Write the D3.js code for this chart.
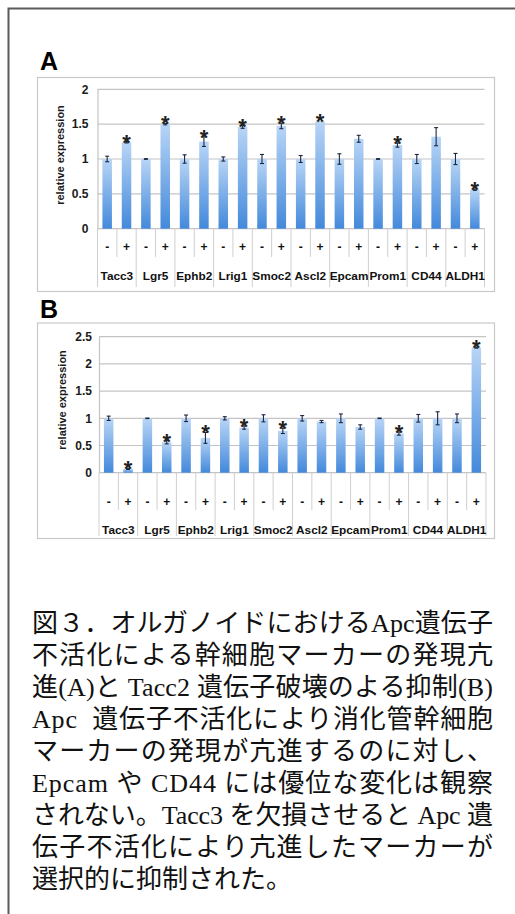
<!DOCTYPE html>
<html>
<head>
<meta charset="utf-8">
<script src="https://cdn.jsdelivr.net/npm/d3@7"></script>
<style>
  body { margin: 0; background: #fff; }
  #wrap { position: relative; width: 515px; height: 914px; overflow: hidden; }
  #wrap svg { position: absolute; left: 0; top: 0; }
  #caption {
    position: absolute; left: 32px; top: 608px; width: 461px;
    font-family: "Liberation Serif", "Noto Sans CJK JP", serif;
    font-size: 26px; line-height: 32px; color: #111;
  }
  #caption div { white-space: pre; }
  #caption span { display: inline-block; }
</style>
</head>
<body>
<div id="wrap">
  <svg id="fig" width="515" height="914"></svg>
  <div id="caption"></div>
</div>
<script>
// Marker genes and the two conditions per gene
const genes = ["Tacc3", "Lgr5", "Ephb2", "Lrig1", "Smoc2", "Ascl2", "Epcam", "Prom1", "CD44", "ALDH1"];
const conditions = ["-", "+"];

// Panel A: Apc inactivation (- / +)
const aMinus    = [1.0, 1.0, 1.0, 1.0, 1.0, 1.0, 1.0, 1.0, 1.0, 1.0];
const aMinusErr = [0.04, 0.005, 0.06, 0.03, 0.065, 0.05, 0.075, 0.005, 0.065, 0.08];
const aPlus     = [1.24, 1.50, 1.25, 1.46, 1.475, 1.54, 1.29, 1.20, 1.32, 0.56];
const aPlusErr  = [0.01, 0.01, 0.07, 0.02, 0.04, 0.0, 0.05, 0.03, 0.13, 0.01];
const aStar     = [true, true, true, true, true, true, false, true, false, true];
const aTicks    = [0, 0.5, 1, 1.5, 2];

// Panel B: Tacc3 disruption (- / +)
const bMinus    = [1.0, 1.0, 1.0, 1.0, 1.0, 1.0, 1.0, 1.0, 1.0, 1.0];
const bMinusErr = [0.04, 0.005, 0.06, 0.03, 0.065, 0.05, 0.08, 0.005, 0.07, 0.08];
const bPlus     = [0.07, 0.56, 0.64, 0.83, 0.77, 0.94, 0.84, 0.72, 1.0, 2.30];
const bPlusErr  = [0.01, 0.03, 0.10, 0.03, 0.05, 0.02, 0.04, 0.03, 0.12, 0.01];
const bStar     = [true, true, true, true, true, false, false, true, false, true];
const bTicks    = [0, 0.5, 1, 1.5, 2, 2.5];

const captionLines = [
  "図３．オルガノイドにおけるApc遺伝子",
  "不活化による幹細胞マーカーの発現亢",
  "進(A)と Tacc2 遺伝子破壊のよる抑制(B)",
  "Apc  遺伝子不活化により消化管幹細胞",
  "マーカーの発現が亢進するのに対し、",
  "Epcam や CD44 には優位な変化は観察",
  "されない。Tacc3 を欠損させると Apc 遺",
  "伝子不活化により亢進したマーカーが",
  "選択的に抑制された。"
];

const svg = d3.select("#fig");
const font = "'Liberation Sans', Arial, Helvetica, sans-serif";

// outer frame
svg.append("path")
  .attr("d", "M8.5,920 V8.5 H520")
  .attr("fill", "none").attr("stroke", "#5a5a5a").attr("stroke-width", 2);

// bar fill
const defs = svg.append("defs");
const grad = defs.append("linearGradient").attr("id", "barFill")
  .attr("x1", 0).attr("y1", 0).attr("x2", 0).attr("y2", 1);
grad.append("stop").attr("offset", "0%").attr("stop-color", "#b8d5f6");
grad.append("stop").attr("offset", "100%").attr("stop-color", "#4389db");

function drawPanel(p) {
  const g = svg.append("g");

  g.append("text").text(p.letter)
    .attr("x", p.letterX).attr("y", p.letterY)
    .attr("font-family", font).attr("font-weight", "bold")
    .attr("font-size", 25).attr("fill", "#000");

  g.append("rect")
    .attr("x", p.box[0] + 0.5).attr("y", p.box[1] + 0.5)
    .attr("width", p.box[2]).attr("height", p.box[3])
    .attr("fill", "#fff").attr("stroke", "#c9c9c9").attr("stroke-width", 1.2);

  const y = d3.scaleLinear().domain([0, p.ticks[p.ticks.length - 1]]).range([p.y0, p.yTop]);
  const x = d3.scaleBand().domain(genes).range([p.x0, p.x1]).paddingInner(0).paddingOuter(0);
  const xs = d3.scaleBand().domain(conditions).range([0, x.bandwidth()]);
  const bw = 9.5;

  // gridlines
  g.append("g").selectAll("line").data(p.ticks).join("line")
    .attr("x1", p.x0).attr("x2", p.x1)
    .attr("y1", d => y(d)).attr("y2", d => y(d))
    .attr("stroke", "#c4c4c4").attr("stroke-width", 1.2);

  // y axis
  const yAxis = d3.axisLeft(y).tickValues(p.ticks).tickSize(0).tickPadding(p.tickPad)
    .tickFormat(d3.format("~g"));
  const ya = g.append("g").attr("transform", `translate(${p.x0},0)`).call(yAxis);
  ya.select(".domain").attr("stroke", "#c4c4c4").attr("stroke-width", 1.2);
  ya.selectAll("text").attr("font-family", font).attr("font-weight", "bold")
    .attr("font-size", 12).attr("fill", "#1a1a1a");

  g.append("text").text("relative expression")
    .attr("transform", `translate(${p.labelX},${p.labelY}) rotate(-90)`)
    .attr("text-anchor", "middle").attr("dominant-baseline", "central")
    .attr("font-family", font).attr("font-weight", "bold")
    .attr("font-size", 11).attr("fill", "#1a1a1a");

  // category axis: separators, signs and gene names
  const cat = g.append("g");
  cat.selectAll("line.major").data(d3.range(genes.length + 1)).join("line")
    .attr("class", "major")
    .attr("x1", i => p.x0 + i * x.step()).attr("x2", i => p.x0 + i * x.step())
    .attr("y1", p.y0).attr("y2", p.sepBottom)
    .attr("stroke", "#cfcfcf").attr("stroke-width", 1);
  cat.selectAll("line.minor").data(genes).join("line")
    .attr("class", "minor")
    .attr("x1", d => x(d) + xs("+")).attr("x2", d => x(d) + xs("+"))
    .attr("y1", p.y0).attr("y2", p.subBottom)
    .attr("stroke", "#cfcfcf").attr("stroke-width", 1);

  const signs = [];
  genes.forEach(gn => conditions.forEach(c => signs.push({ gene: gn, c })));
  cat.selectAll("text.sign").data(signs).join("text")
    .attr("class", "sign")
    .attr("x", d => x(d.gene) + xs(d.c) + xs.bandwidth() / 2)
    .attr("y", p.signY)
    .attr("text-anchor", "middle").attr("dominant-baseline", "central")
    .attr("font-family", font).attr("font-weight", "bold")
    .attr("font-size", 12).attr("fill", "#111")
    .text(d => d.c);
  cat.selectAll("text.gene").data(genes).join("text")
    .attr("class", "gene")
    .attr("x", d => x(d) + x.bandwidth() / 2)
    .attr("y", p.geneY)
    .attr("text-anchor", "middle").attr("dominant-baseline", "central")
    .attr("font-family", font).attr("font-weight", "bold")
    .attr("font-size", 11.8).attr("fill", "#111")
    .text(d => d);

  // bars
  const rows = [];
  genes.forEach((gn, i) => {
    rows.push({ gene: gn, c: "-", v: p.minus[i], e: p.minusErr[i], star: false });
    rows.push({ gene: gn, c: "+", v: p.plus[i], e: p.plusErr[i], star: p.star[i] });
  });
  const cx = d => x(d.gene) + xs(d.c) + xs.bandwidth() / 2;

  g.append("g").selectAll("rect").data(rows).join("rect")
    .attr("x", d => cx(d) - bw / 2).attr("width", bw)
    .attr("y", d => y(d.v)).attr("height", d => y(0) - y(d.v))
    .attr("fill", "url(#barFill)");

  // error bars
  const eb = g.append("g").attr("stroke", "#1c2740").attr("stroke-width", 1.1);
  const withErr = rows.filter(d => d.e > 0);
  eb.selectAll("line.stem").data(withErr).join("line")
    .attr("x1", cx).attr("x2", cx)
    .attr("y1", d => y(d.v + d.e)).attr("y2", d => y(d.v - d.e));
  eb.selectAll("line.capT").data(withErr).join("line")
    .attr("x1", d => cx(d) - 2).attr("x2", d => cx(d) + 2)
    .attr("y1", d => y(d.v + d.e)).attr("y2", d => y(d.v + d.e));
  eb.selectAll("line.capB").data(withErr).join("line")
    .attr("x1", d => cx(d) - 2).attr("x2", d => cx(d) + 2)
    .attr("y1", d => y(d.v - d.e)).attr("y2", d => y(d.v - d.e));

  // significance marks
  g.append("g").selectAll("text").data(rows.filter(d => d.star)).join("text")
    .attr("x", cx)
    .attr("y", d => y(d.v + d.e) + 8)
    .attr("text-anchor", "middle")
    .attr("font-family", font).attr("font-weight", "bold")
    .attr("font-size", 22).attr("fill", "#222")
    .text("*");
}

drawPanel({
  letter: "A", letterX: 40, letterY: 70,
  box: [37, 77, 457, 214],
  x0: 97.5, x1: 484.5, y0: 228.7, yTop: 89.3, ticks: aTicks, tickPad: 9,
  labelX: 60, labelY: 155,
  sepBottom: 287, subBottom: 257, signY: 247, geneY: 276,
  minus: aMinus, minusErr: aMinusErr, plus: aPlus, plusErr: aPlusErr, star: aStar
});

drawPanel({
  letter: "B", letterX: 40, letterY: 318,
  box: [37, 322.5, 457, 215.5],
  x0: 99, x1: 486, y0: 472.7, yTop: 336.7, ticks: bTicks, tickPad: 7,
  labelX: 62, labelY: 400,
  sepBottom: 536, subBottom: 510, signY: 501.7, geneY: 530,
  minus: bMinus, minusErr: bMinusErr, plus: bPlus, plusErr: bPlusErr, star: bStar
});

// caption: every line but the last is spread to the full column width
const capWidth = 461;
const capLines = d3.select("#caption").selectAll("div").data(captionLines).join("div");
const spans = capLines.append("span").text(d => d);
spans.each(function (d, i) {
  if (i === captionLines.length - 1) return;
  const n = Array.from(d).length;
  const w = this.getBoundingClientRect().width;
  const ls = (capWidth - w) / (n - 1);
  d3.select(this).style("letter-spacing", ls + "px");
});
</script>
</body>
</html>
